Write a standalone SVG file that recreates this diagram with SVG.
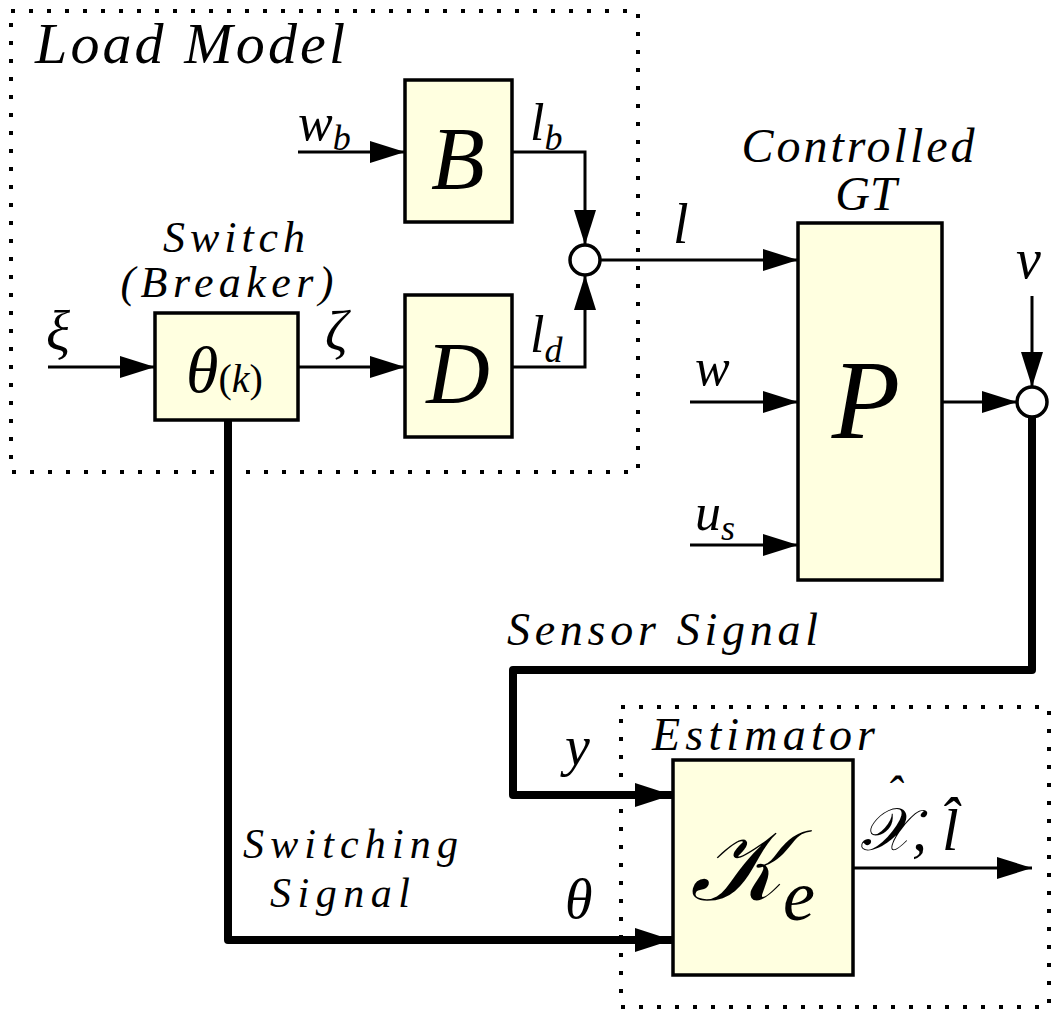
<svg xmlns="http://www.w3.org/2000/svg" width="1054" height="1012" viewBox="0 0 1054 1012">
<style>
.blk{fill:#ffffe0;stroke:#000;stroke-width:3.5}
.dot{fill:none;stroke:#000;stroke-width:4;stroke-dasharray:4 14}
.thin{fill:none;stroke:#000;stroke-width:3}
.thick{fill:none;stroke:#000;stroke-width:8;stroke-linejoin:round;stroke-linecap:round}
.sum{fill:#fff;stroke:#000;stroke-width:3.5}
text{font-family:"Liberation Serif","DejaVu Serif",serif;font-style:italic;fill:#000}
</style>
<defs>
<marker id="a" markerUnits="userSpaceOnUse" markerWidth="36" markerHeight="24" refX="35" refY="12" orient="auto"><path d="M0,1 L35,12 L0,23 z" fill="#000"/></marker>
<marker id="A" markerUnits="userSpaceOnUse" markerWidth="38" markerHeight="28" refX="37" refY="14" orient="auto"><path d="M0,2 L37,14 L0,26 z" fill="#000"/></marker>
</defs>
<rect x="0" y="0" width="1054" height="1012" fill="#fff"/>
<g id="load-model-frame"><rect class="dot" x="11" y="11" width="627" height="461"/><text x="35" y="63" font-size="58" textLength="310">Load Model</text></g>
<g id="estimator-frame"><rect class="dot" x="621" y="707" width="428" height="300"/><text x="652" y="750" font-size="46" textLength="223">Estimator</text></g>
<g id="connectors">
<path class="thin" d="M298,152 H405" marker-end="url(#a)"/>
<path class="thin" d="M512,152 H585 V245" marker-end="url(#a)"/>
<path class="thin" d="M512,367 H585 V275" marker-end="url(#a)"/>
<path class="thin" d="M48,367 H155" marker-end="url(#a)"/>
<path class="thin" d="M298,367 H405" marker-end="url(#a)"/>
<path class="thin" d="M600,260 H798" marker-end="url(#a)"/>
<path class="thin" d="M690,402 H798" marker-end="url(#a)"/>
<path class="thin" d="M690,545 H798" marker-end="url(#a)"/>
<path class="thin" d="M942,402 H1017" marker-end="url(#a)"/>
<path class="thin" d="M1032,296 V387" marker-end="url(#a)"/>
<path class="thin" d="M853,868 H1032" marker-end="url(#a)"/>
<path class="thick" d="M1032,417 V670 H513 V795 H672" marker-end="url(#A)"/>
<path class="thick" d="M228,420 V940 H672" marker-end="url(#A)"/>
</g>
<g id="B"><rect class="blk" x="405" y="80" width="107" height="142"/><text x="458" y="188" font-size="88" text-anchor="middle">B</text></g>
<g id="D"><rect class="blk" x="405" y="295" width="107" height="142"/><text x="458" y="403" font-size="88" text-anchor="middle">D</text></g>
<g id="switch"><rect class="blk" x="155" y="313" width="143" height="107"/><text x="186" y="392" font-size="66">θ<tspan font-size="40" font-style="normal">(</tspan><tspan font-size="40">k</tspan><tspan font-size="40" font-style="normal">)</tspan></text>
<text x="234" y="252" font-size="44" text-anchor="middle" textLength="142">Switch</text><text x="227" y="297" font-size="44" text-anchor="middle" textLength="213">(Breaker)</text></g>
<g id="sum1"><circle class="sum" cx="585" cy="260" r="15"/></g>
<g id="sum2"><circle class="sum" cx="1032" cy="402" r="15"/></g>
<g id="P"><rect class="blk" x="798" y="223" width="144" height="357"/><text x="866" y="438" font-size="112" text-anchor="middle">P</text>
<text x="858" y="162" font-size="48" text-anchor="middle" textLength="233">Controlled</text><text x="866" y="210" font-size="48" text-anchor="middle">GT</text></g>
<g id="Ke"><rect class="blk" x="673" y="760" width="180" height="215"/><text x="690" y="900" font-size="100">𝒦<tspan font-size="72" dy="20">e</tspan></text></g>
<g id="labels">
<text x="298" y="140" font-size="52">w<tspan font-size="36" dy="10">b</tspan></text>
<text x="530" y="140" font-size="52">l<tspan font-size="36" dy="10">b</tspan></text>
<text x="530" y="352" font-size="52">l<tspan font-size="36" dy="10">d</tspan></text>
<text x="46" y="350" font-size="56">ξ</text>
<text x="325" y="350" font-size="56">ζ</text>
<text x="673" y="243" font-size="56">l</text>
<text x="1016" y="278" font-size="56">v</text>
<text x="695" y="385" font-size="52">w</text>
<text x="695" y="530" font-size="52">u<tspan font-size="36" dy="10">s</tspan></text>
<text x="507" y="645" font-size="46" textLength="311">Sensor Signal</text>
<text x="565" y="765" font-size="56">y</text>
<text x="565" y="918" font-size="56">θ</text>
<text x="243" y="858" font-size="42" textLength="215">Switching</text>
<text x="270" y="907" font-size="42" textLength="140">Signal</text>
<text x="860" y="850" font-size="60">𝒳<tspan x="886" y="810" font-size="48">ˆ</tspan><tspan x="912" y="850">, l̂</tspan></text>
</g>
</svg>
